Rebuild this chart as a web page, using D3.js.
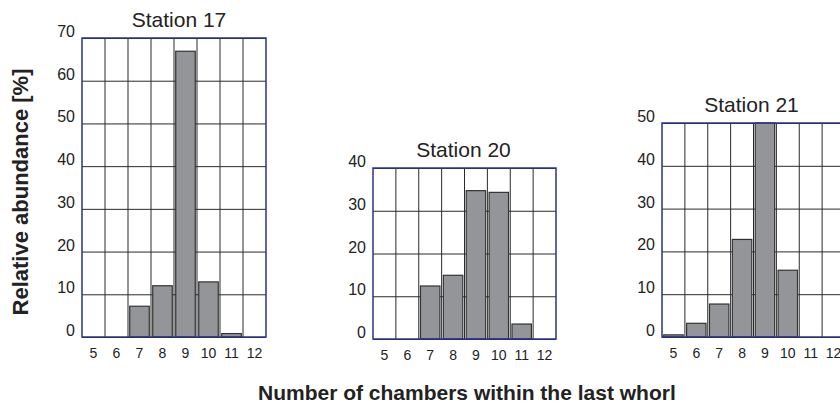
<!DOCTYPE html>
<html>
<head>
<meta charset="utf-8">
<script src="https://cdn.jsdelivr.net/npm/d3@7"></script>
<style>
  html, body { margin: 0; padding: 0; background: #fff; }
  svg { display: block; font-family: "Liberation Sans", Arial, sans-serif; }
</style>
</head>
<body>
<svg id="chart" width="840" height="408"></svg>
<script>
// ---- data ----
const categories = [5, 6, 7, 8, 9, 10, 11, 12];
const station17 = [0, 0, 7.2, 12.0, 66.9, 12.9, 0.8, 0];
const station20 = [0, 0, 12.4, 14.9, 34.7, 34.3, 3.5, 0];
const station21 = [0.5, 3.2, 7.7, 22.8, 50, 15.6, 0, 0];
const titles = ["Station 17", "Station 20", "Station 21"];
const yMax = [70, 40, 50];
const yTicks17 = [0, 10, 20, 30, 40, 50, 60, 70];
const yTicks20 = [0, 10, 20, 30, 40];
const yTicks21 = [0, 10, 20, 30, 40, 50];
const yLabel = "Relative abundance [%]";
const xLabel = "Number of chambers within the last whorl";

// ---- layout ----
const panels = [
  { left: 82,  top: 38,  width: 184, height: 299, titleDx: 5, values: station17, ticks: yTicks17, max: yMax[0], title: titles[0] },
  { left: 373, top: 168, width: 183, height: 171, titleDx: -1, values: station20, ticks: yTicks20, max: yMax[1], title: titles[1] },
  { left: 662, top: 123, width: 183, height: 214, titleDx: -2, values: station21, ticks: yTicks21, max: yMax[2], title: titles[2] }
];

const svg = d3.select("#chart");
svg.append("rect").attr("width", 840).attr("height", 408).attr("fill", "#fff");

const frameColor = "#2e3192";
const gridColor = "#2a2a2a";
const barFill = "#939598";
const barStroke = "#333333";

panels.forEach(p => {
  const g = svg.append("g").attr("transform", `translate(${p.left},${p.top})`);
  const pad = 0.15;
  const x = d3.scaleBand().domain(categories).range([0, p.width]).paddingInner(pad).paddingOuter(pad / 2);
  const y = d3.scaleLinear().domain([0, p.max]).range([p.height, 0]);

  // horizontal grid + y tick labels
  const ya = g.append("g").call(d3.axisLeft(y).tickValues(p.ticks).tickSize(-p.width).tickPadding(7));
  ya.select(".domain").remove();
  ya.selectAll(".tick line").attr("stroke", gridColor).attr("stroke-width", 1);
  ya.selectAll(".tick text")
    .attr("dy", "-1.5px")
    .attr("fill", "#222")
    .style("font-size", "16px")
    .style("font-family", "'Liberation Sans', Arial, sans-serif");

  // vertical grid at column boundaries
  const step = x.step();
  const bounds = categories.slice(1).map(c => x(c) - step * pad / 2);
  g.append("g").selectAll("line").data(bounds).join("line")
    .attr("x1", d => d).attr("x2", d => d)
    .attr("y1", 0).attr("y2", p.height)
    .attr("stroke", gridColor).attr("stroke-width", 1);

  // bars
  g.append("g").selectAll("rect")
    .data(categories.map((c, i) => ({ c, v: p.values[i] })).filter(d => d.v > 0))
    .join("rect")
    .attr("x", d => x(d.c))
    .attr("y", d => y(d.v))
    .attr("width", x.bandwidth())
    .attr("height", d => y(0) - y(d.v))
    .attr("fill", barFill)
    .attr("stroke", barStroke)
    .attr("stroke-width", 1.2);

  // x tick labels
  const xa = g.append("g").attr("transform", `translate(0,${p.height})`)
    .call(d3.axisBottom(x).tickSize(0).tickPadding(0));
  xa.select(".domain").remove();
  xa.selectAll(".tick text")
    .attr("dy", null)
    .attr("y", 21)
    .attr("fill", "#222")
    .style("font-size", "14px")
    .style("font-family", "'Liberation Sans', Arial, sans-serif");

  // frame
  g.append("rect").attr("x", 0).attr("y", 0).attr("width", p.width).attr("height", p.height)
    .attr("fill", "none").attr("stroke", frameColor).attr("stroke-width", 1.5);

  // title
  g.append("text").attr("x", p.width / 2 + p.titleDx).attr("y", -11)
    .attr("text-anchor", "middle").attr("fill", "#222")
    .style("font-size", "21px").text(p.title);
});

// axis titles
svg.append("text")
  .attr("transform", "translate(28,192) rotate(-90)")
  .attr("text-anchor", "middle").attr("fill", "#222")
  .style("font-size", "22px").style("font-weight", "bold")
  .text(yLabel);

svg.append("text")
  .attr("x", 258).attr("y", 400)
  .attr("fill", "#222")
  .style("font-size", "21px").style("font-weight", "bold")
  .text(xLabel);
</script>
</body>
</html>
